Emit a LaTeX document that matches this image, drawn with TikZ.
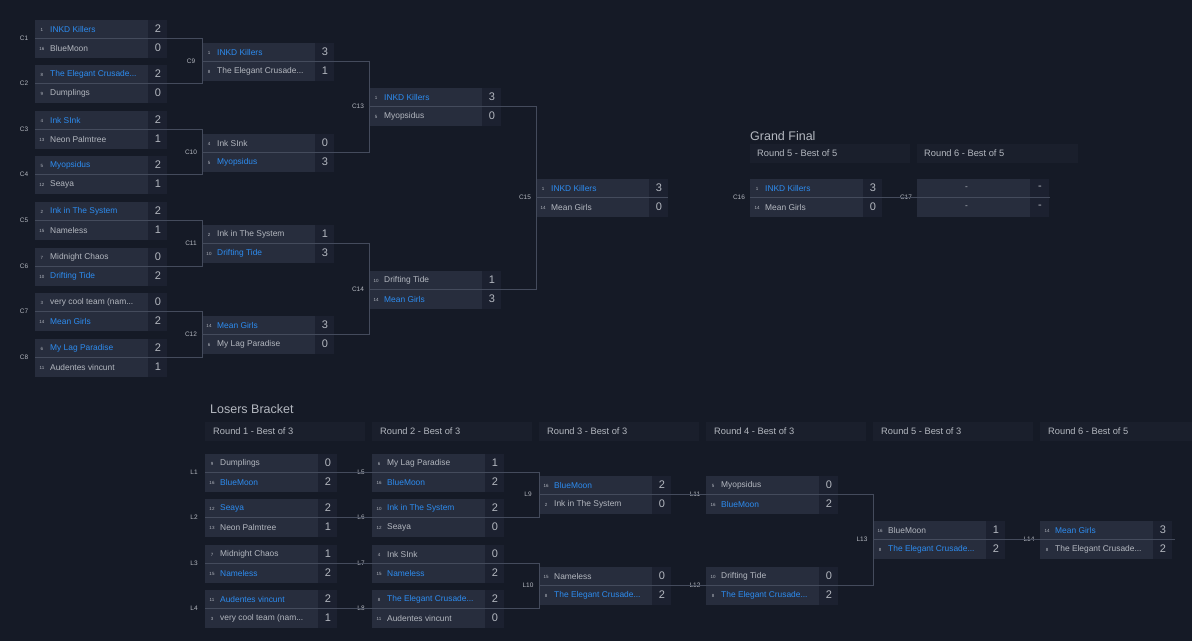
\documentclass[tikz,border=0pt]{standalone}
\usepackage{fontspec}
\setmainfont{Liberation Sans}
\definecolor{bg}{HTML}{151A26}
\definecolor{namebg}{HTML}{272D3D}
\definecolor{scorebg}{HTML}{1C2130}
\definecolor{hdrbg}{HTML}{1A1F2C}
\definecolor{ln}{HTML}{444B5C}
\definecolor{txt}{HTML}{B4B8C0}
\definecolor{win}{HTML}{2D8CF0}
\begin{document}
\begin{tikzpicture}[x=1pt,y=-1pt,
  seed/.style={text=txt,font=\fontsize{4.5}{5}\selectfont,inner sep=0pt},
  nm/.style={text=txt,font=\fontsize{8.4}{9}\selectfont,anchor=west,inner sep=0pt},
  sc/.style={text=txt,font=\fontsize{11}{12}\selectfont,inner sep=0pt},
  w/.style={text=win},
  l/.style={},
  lab/.style={text=txt,font=\fontsize{6.5}{7}\selectfont,inner sep=0pt},
  conn/.style={draw=ln,line width=0.9pt},
  hd/.style={text=txt,font=\fontsize{9.3}{10}\selectfont,anchor=west,inner sep=0pt},
  ttl/.style={text=txt,font=\fontsize{12.5}{13}\selectfont,anchor=west,inner sep=0pt}]
\newcommand\mrowA[7]{%
  \fill[namebg] (#2,#3-9.5) rectangle ++(113,19);
  \fill[scorebg] (#2+113,#3-9.5) rectangle ++(19,19);
  \node[seed] (#1s) at (#2+7,#3+0.5) {#4};
  \node[nm,#7] (#1n) at (#2+15,#3) {#5};
  \node[sc] (#1c) at (#2+123,#3) {#6};}
\newcommand\match[5]{%
  \mrowA{#1a}{#2}{#3}#4
  \mrowA{#1b}{#2}{#3+19}#5
  \node[lab] (#1) at (#2-11,#3+9.5) {#1};}
\useasboundingbox (0,0) rectangle (1192,641);
\fill[bg] (0,0) rectangle (1192,641);
% headers
\node[ttl] (gf) at (750,136) {Grand Final};
\fill[hdrbg] (750,144) rectangle (910,163);
\fill[hdrbg] (917,144) rectangle (1078,163);
\node[hd] (h5) at (757,153) {Round 5 - Best of 5};
\node[hd] (h6) at (924,153) {Round 6 - Best of 5};
\node[ttl] (lb) at (210,409) {Losers Bracket};
\foreach \i/\x/\t in {1/205/3,2/372/3,3/539/3,4/706/3,5/873/3,6/1040/5}{
  \fill[hdrbg] (\x,422) rectangle ++(160,19);
  \node[hd] (lh\i) at (\x+8,431) {Round \i\ - Best of \t};}
\begin{scope}[yshift=-1pt]
% winners
\match{C1}{35}{28}{{1}{INKD Killers}{2}{w}}{{16}{BlueMoon}{0}{l}}
\match{C2}{35}{73}{{8}{The Elegant Crusade...}{2}{w}}{{9}{Dumplings}{0}{l}}
\match{C3}{35}{119}{{4}{Ink SInk}{2}{w}}{{13}{Neon Palmtree}{1}{l}}
\match{C4}{35}{164}{{5}{Myopsidus}{2}{w}}{{12}{Seaya}{1}{l}}
\match{C5}{35}{210}{{2}{Ink in The System}{2}{w}}{{15}{Nameless}{1}{l}}
\match{C6}{35}{256}{{7}{Midnight Chaos}{0}{l}}{{10}{Drifting Tide}{2}{w}}
\match{C7}{35}{301}{{3}{very cool team (nam...}{0}{l}}{{14}{Mean Girls}{2}{w}}
\match{C8}{35}{347}{{6}{My Lag Paradise}{2}{w}}{{11}{Audentes vincunt}{1}{l}}
\match{C9}{202}{51}{{1}{INKD Killers}{3}{w}}{{8}{The Elegant Crusade...}{1}{l}}
\match{C10}{202}{142}{{4}{Ink SInk}{0}{l}}{{5}{Myopsidus}{3}{w}}
\match{C11}{202}{233}{{2}{Ink in The System}{1}{l}}{{10}{Drifting Tide}{3}{w}}
\match{C12}{202}{324}{{14}{Mean Girls}{3}{w}}{{6}{My Lag Paradise}{0}{l}}
\match{C13}{369}{96}{{1}{INKD Killers}{3}{w}}{{5}{Myopsidus}{0}{l}}
\match{C14}{369}{279}{{10}{Drifting Tide}{1}{l}}{{14}{Mean Girls}{3}{w}}
\match{C15}{536}{187}{{1}{INKD Killers}{3}{w}}{{14}{Mean Girls}{0}{l}}
\match{C16}{750}{187}{{1}{INKD Killers}{3}{w}}{{14}{Mean Girls}{0}{l}}
\match{C17}{917}{187}{{}{\hspace{33pt}-}{-}{l}}{{}{\hspace{33pt}-}{-}{l}}
% losers
\match{L1}{205}{462}{{9}{Dumplings}{0}{l}}{{16}{BlueMoon}{2}{w}}
\match{L2}{205}{507}{{12}{Seaya}{2}{w}}{{13}{Neon Palmtree}{1}{l}}
\match{L3}{205}{553}{{7}{Midnight Chaos}{1}{l}}{{15}{Nameless}{2}{w}}
\match{L4}{205}{598}{{11}{Audentes vincunt}{2}{w}}{{3}{very cool team (nam...}{1}{l}}
\match{L5}{372}{462}{{6}{My Lag Paradise}{1}{l}}{{16}{BlueMoon}{2}{w}}
\match{L6}{372}{507}{{10}{Ink in The System}{2}{w}}{{12}{Seaya}{0}{l}}
\match{L7}{372}{553}{{4}{Ink SInk}{0}{l}}{{15}{Nameless}{2}{w}}
\match{L8}{372}{598}{{8}{The Elegant Crusade...}{2}{w}}{{11}{Audentes vincunt}{0}{l}}
\match{L9}{539}{484}{{16}{BlueMoon}{2}{w}}{{2}{Ink in The System}{0}{l}}
\match{L10}{539}{575}{{15}{Nameless}{0}{l}}{{8}{The Elegant Crusade...}{2}{w}}
\match{L11}{706}{484}{{5}{Myopsidus}{0}{l}}{{16}{BlueMoon}{2}{w}}
\match{L12}{706}{575}{{10}{Drifting Tide}{0}{l}}{{8}{The Elegant Crusade...}{2}{w}}
\match{L13}{873}{529}{{16}{BlueMoon}{1}{l}}{{8}{The Elegant Crusade...}{2}{w}}
\match{L14}{1040}{529}{{14}{Mean Girls}{3}{w}}{{8}{The Elegant Crusade...}{2}{l}}
% connectors
\foreach \a/\b in {37.5/82.5,128.5/173.5,219.5/265.5,310.5/356.5}
  \draw[conn] (35,\a) -- (202,\a) -- (202,\b) -- (35,\b);
\foreach \a/\b in {60.5/151.5,242.5/333.5}
  \draw[conn] (202,\a) -- (369,\a) -- (369,\b) -- (202,\b);
\draw[conn] (369,105.5) -- (536,105.5) -- (536,288.5) -- (369,288.5);
\draw[conn] (536,196.5) -- (668,196.5);
\draw[conn] (750,196.5) -- (1050,196.5);
\foreach \a in {471.5,516.5,562.5,607.5}
  \draw[conn] (205,\a) -- (372,\a);
\foreach \a/\b in {471.5/516.5,562.5/607.5}
  \draw[conn] (372,\a) -- (539,\a) -- (539,\b) -- (372,\b);
\foreach \a in {493.5,584.5}
  \draw[conn] (539,\a) -- (706,\a);
\draw[conn] (706,493.5) -- (873,493.5) -- (873,584.5) -- (706,584.5);
\draw[conn] (873,538.5) -- (1040,538.5);
\draw[conn] (1040,538.5) -- (1175,538.5);
\end{scope}
\end{tikzpicture}
\end{document}
